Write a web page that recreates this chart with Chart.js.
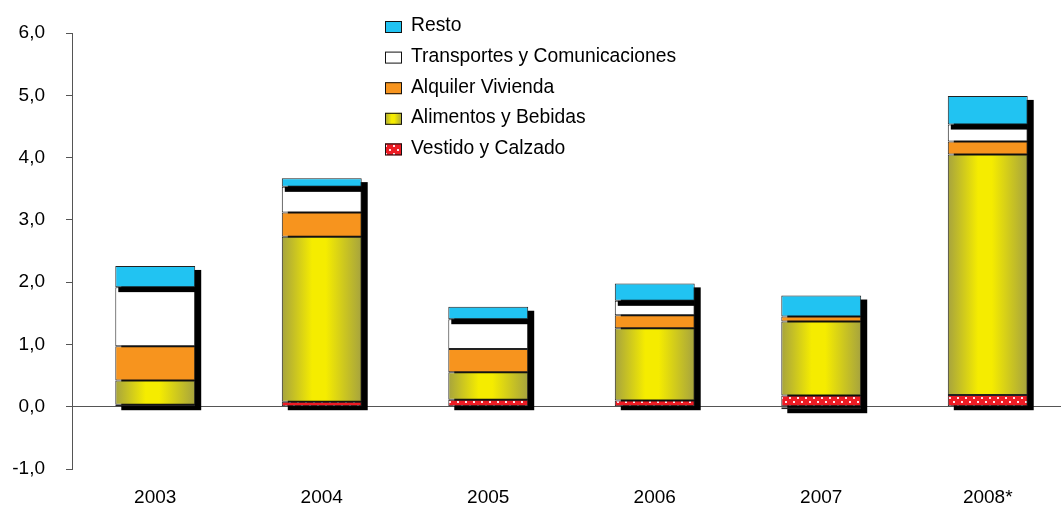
<!DOCTYPE html>
<html>
<head>
<meta charset="utf-8">
<script src="https://cdn.jsdelivr.net/npm/chart.js@4.4.1/dist/chart.umd.min.js"></script>
<style>
  html, body { margin: 0; padding: 0; background: #fff; overflow: hidden; }
  #wrap { width: 1061px; height: 513px; overflow: hidden; }
</style>
</head>
<body>
<div id="wrap"><canvas id="chart" width="1071" height="513"></canvas></div>

<script>
  // Datos (puntos porcentuales de incidencia)
  const anios = ['2003', '2004', '2005', '2006', '2007', '2008*'];
  const vestido = [0.03, 0.08, 0.11, 0.10, 0.18, 0.19];
  const alimentos = [0.39, 2.65, 0.445, 1.16, 1.19, 3.86];
  const alquiler = [0.55, 0.39, 0.37, 0.21, 0.08, 0.21];
  const transportes = [0.95, 0.41, 0.48, 0.23, -0.04, 0.27];
  const resto = [0.34, 0.14, 0.20, 0.28, 0.335, 0.46];
  const ejeY = [-1, 0, 1, 2, 3, 4, 5, 6];

  const FONT = '"Liberation Sans", Arial, sans-serif';
  const BAR_PCT = 0.48;
  const borde = '#222';

  // patrón rojo con puntos blancos (Vestido y Calzado)
  const tile = document.createElement('canvas');
  tile.width = 8; tile.height = 8;
  const t = tile.getContext('2d');
  t.fillStyle = '#ED1C24'; t.fillRect(0, 0, 8, 8);
  t.fillStyle = 'rgba(255,235,240,0.95)';
  t.fillRect(1, 1, 2, 2); t.fillRect(5, 5, 2, 2);
  const ctx = document.getElementById('chart').getContext('2d');
  const puntos = ctx.createPattern(tile, 'repeat');

  // degradado horizontal oliva-amarillo-oliva (Alimentos y Bebidas)
  function degradado(x0, x1) {
    const g = ctx.createLinearGradient(x0, 0, x1, 0);
    g.addColorStop(0, '#A6A33E');
    g.addColorStop(0.38, '#F5EC00');
    g.addColorStop(0.55, '#F5EC00');
    g.addColorStop(1, '#A6A33E');
    return g;
  }
  function fondoAlimentos(c) {
    const chart = c.chart;
    if (c.dataIndex === undefined || !chart.scales.x) return '#F5EC00';
    const sx = chart.scales.x;
    const cx = sx.getPixelForValue(c.dataIndex);
    const half = (sx.width / anios.length) * BAR_PCT / 2;
    if (!isFinite(cx) || !isFinite(half) || half <= 0) return '#F5EC00';
    return degradado(cx - half, cx + half);
  }

  const leyenda = [
    { text: 'Resto', fill: () => '#21C3F2' },
    { text: 'Transportes y Comunicaciones', fill: () => '#FFFFFF' },
    { text: 'Alquiler Vivienda', fill: () => '#F7941E' },
    { text: 'Alimentos y Bebidas', fill: (x0, x1) => degradado(x0, x1) },
    { text: 'Vestido y Calzado', fill: () => puntos }
  ];

  const sombras = {
    id: 'sombras',
    // sombra negra de cada columna completa
    beforeDatasetsDraw(chart) {
      const c = chart.ctx;
      const metas = chart.getSortedVisibleDatasetMetas();
      anios.forEach((_, i) => {
        let top = Infinity, bottom = -Infinity, left = 0, right = 0;
        metas.forEach(m => {
          const p = m.data[i].getProps(['x', 'y', 'base', 'width'], true);
          top = Math.min(top, p.y, p.base);
          bottom = Math.max(bottom, p.y, p.base);
          left = p.x - p.width / 2; right = p.x + p.width / 2;
        });
        c.save();
        c.fillStyle = '#000';
        c.fillRect(left + 6, top + 4, right - left, bottom - top);
        c.restore();
      });
    },
    // la sombra del segmento Resto cae sobre Transportes
    afterDatasetDraw(chart, args) {
      if (args.index !== 3) return;
      const c = chart.ctx;
      args.meta.data.forEach((bar, i) => {
        if (transportes[i] <= 0) return;
        const p = bar.getProps(['x', 'y', 'base', 'width'], true);
        c.save();
        c.fillStyle = '#000';
        c.fillRect(p.x - p.width / 2 + 3, p.y, p.width - 3, Math.min(5, p.base - p.y));
        c.restore();
      });
    },
    afterDraw(chart) {
      const c = chart.ctx;
      c.save();
      leyenda.forEach((it, i) => {
        const cy = 27 + i * 30.6;
        const x0 = 385, w = 17, h = 12;
        c.fillStyle = it.fill(x0, x0 + w);
        c.fillRect(x0, cy - h / 2, w, h);
        c.strokeStyle = '#111';
        c.lineWidth = 1;
        c.strokeRect(x0 + 0.5, cy - h / 2 + 0.5, w - 1, h - 1);
        c.fillStyle = '#000';
        c.font = '19.3px ' + FONT;
        c.textBaseline = 'middle';
        c.textAlign = 'left';
        c.fillText(it.text, 411, cy - 1);
      });
      c.restore();
    }
  };

  function serie(label, data, bg) {
    return {
      label, data,
      backgroundColor: bg,
      borderColor: borde,
      borderWidth: 1,
      borderSkipped: false,
      categoryPercentage: 1,
      barPercentage: BAR_PCT
    };
  }

  new Chart(ctx, {
    type: 'bar',
    data: {
      labels: anios,
      datasets: [
        serie('Vestido y Calzado', vestido, puntos),
        serie('Alimentos y Bebidas', alimentos, fondoAlimentos),
        serie('Alquiler Vivienda', alquiler, '#F7941E'),
        serie('Transportes y Comunicaciones', transportes, '#FFFFFF'),
        serie('Resto', resto, '#21C3F2')
      ]
    },
    options: {
      responsive: false,
      animation: false,
      devicePixelRatio: 1,
      layout: { padding: { left: 12, right: 0, top: 33, bottom: 4 } },
      plugins: { legend: { display: false }, tooltip: { enabled: false } },
      scales: {
        x: {
          stacked: true,
          afterFit: (s) => { s.height = 40; },
          grid: { display: false, drawTicks: false },
          border: { display: false },
          ticks: { color: '#000', font: { family: FONT, size: 19 }, padding: 17 }
        },
        y: {
          stacked: true,
          min: ejeY[0],
          max: ejeY[ejeY.length - 1],
          afterBuildTicks: (s) => { s.ticks = ejeY.map(v => ({ value: v })); },
          afterFit: (s) => { s.width = 60; },
          grid: {
            color: (c) => (c.tick && c.tick.value === 0 ? '#555' : 'rgba(0,0,0,0)'),
            tickColor: '#555',
            tickLength: 6,
            drawTicks: true
          },
          border: { display: true, color: '#555', width: 1 },
          ticks: {
            color: '#000',
            font: { family: FONT, size: 19 },
            padding: 21,
            callback: (v) => v.toFixed(1).replace('.', ',')
          }
        }
      }
    },
    plugins: [sombras]
  });
</script>
</body>
</html>
